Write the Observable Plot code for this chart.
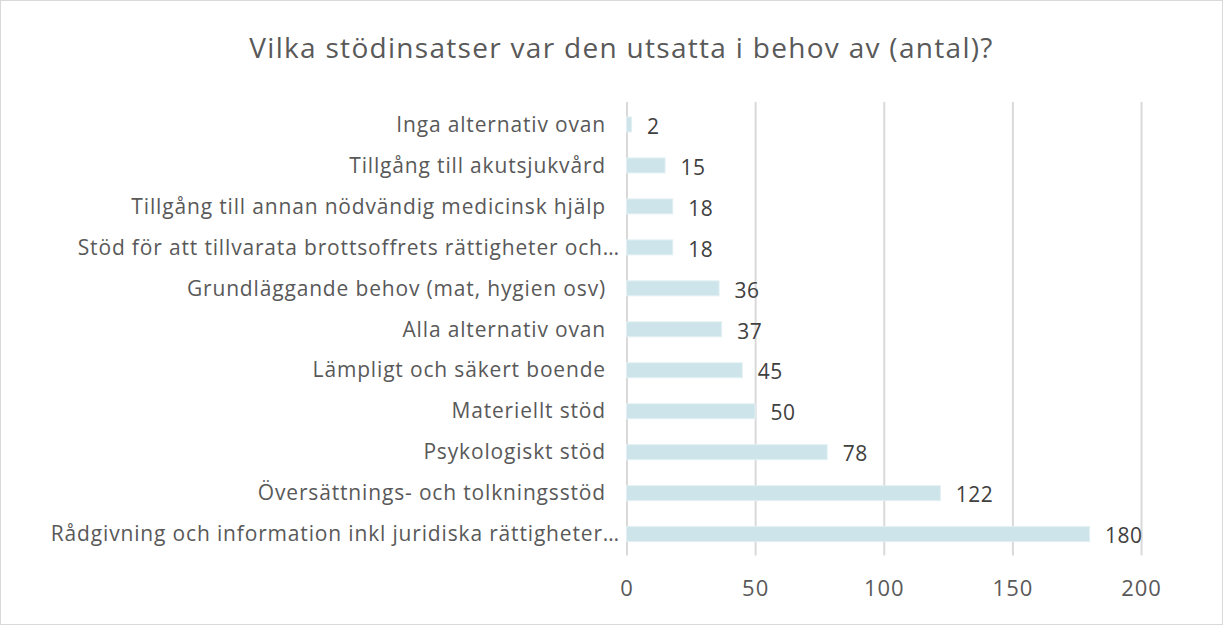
<!DOCTYPE html>
<html><head><meta charset="utf-8">
<script src="https://cdn.jsdelivr.net/npm/d3@7"></script>
<script src="https://cdn.jsdelivr.net/npm/@observablehq/plot@0.6"></script>
<style>
html,body{margin:0;padding:0;background:#fff;}
#wrap{position:relative;width:1221px;height:623px;border:1px solid #d9d9d9;overflow:hidden;font-family:"Open Sans",sans-serif;}
#title{position:absolute;left:20px;top:27px;width:1201px;text-align:center;font-size:28px;letter-spacing:1.3px;color:#595959;line-height:38px;}
#chart{position:absolute;left:-1px;top:89px;}
</style></head>
<body><div id="wrap"><div id="title">Vilka stödinsatser var den utsatta i behov av (antal)?</div><div id="chart"></div></div>
<script>
const categories = [
  "Inga alternativ ovan",
  "Tillgång till akutsjukvård",
  "Tillgång till annan nödvändig medicinsk hjälp",
  "Stöd för att tillvarata brottsoffrets rättigheter och…",
  "Grundläggande behov (mat, hygien osv)",
  "Alla alternativ ovan",
  "Lämpligt och säkert boende",
  "Materiellt stöd",
  "Psykologiskt stöd",
  "Översättnings- och tolkningsstöd",
  "Rådgivning och information inkl juridiska rättigheter…"
];
const values = [2, 15, 18, 18, 36, 37, 45, 50, 78, 122, 180];
const xTicks = [0, 50, 100, 150, 200];

const data = categories.map((c, i) => ({category: c, value: values[i]}));
const fullLabels = categories.filter(c => !c.endsWith("…"));
const cutLabels = categories.filter(c => c.endsWith("…"));

const chart = Plot.plot({
  width: 1223,
  height: 536,
  marginTop: 12,
  marginBottom: 70,
  marginLeft: 627,
  marginRight: 81,
  style: {fontFamily: "'Open Sans', sans-serif", fontSize: "20px", color: "#595959", background: "transparent"},
  x: {domain: [0, 200], ticks: xTicks, label: null},
  y: {domain: categories, label: null, paddingInner: 0.637, paddingOuter: 0.314, axis: null},
  marks: [
    Plot.gridX(xTicks, {stroke: "#d9d9d9", strokeOpacity: 1, strokeWidth: 2}),
    Plot.barX(data, {x: "value", y: "category", fill: "#cce4ea", stroke: "#e3f0f3", strokeWidth: 1}),
    Plot.text(data, {x: "value", y: "category", text: d => String(d.value), textAnchor: "start", dx: 15, dy: 2, fill: "#404040", fontSize: 21}),
    Plot.axisX({ticks: xTicks, tickSize: 0, tickPadding: 24, fontSize: 22, label: null, color: "#595959"}),
    Plot.text(fullLabels, {x: 0, y: d => d, text: d => d, textAnchor: "end", dx: -21, fill: "#595959", fontSize: 21}),
    Plot.text(cutLabels, {x: 0, y: d => d, text: d => d, textAnchor: "end", dx: -7, fill: "#595959", fontSize: 21})
  ]
});
const textGroups = chart.querySelectorAll('g[aria-label="text"]');
textGroups.forEach((g, i) => {
  const ls = i === 0 ? "0.5" : "0.85";
  g.querySelectorAll("text").forEach(t => t.setAttribute("letter-spacing", ls));
});
chart.querySelectorAll('[aria-label="x-axis tick label"] text').forEach(t => t.setAttribute("letter-spacing", "1"));
document.getElementById("chart").appendChild(chart);
</script>
</body></html>
